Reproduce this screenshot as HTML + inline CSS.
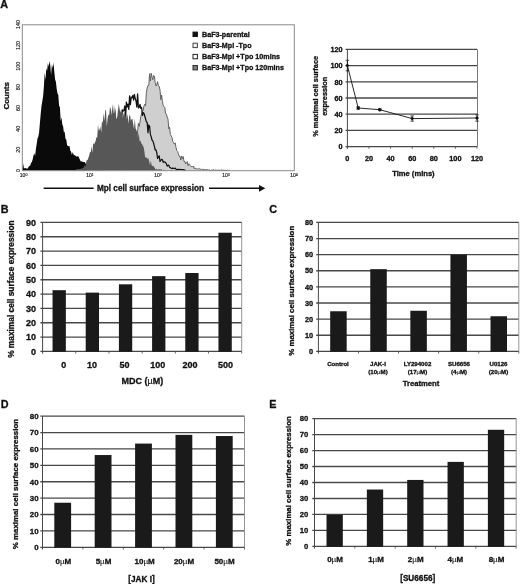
<!DOCTYPE html>
<html><head><meta charset="utf-8"><title>Figure</title>
<style>
html,body{margin:0;padding:0;background:#fff;}
body{width:520px;height:584px;overflow:hidden;}
svg{display:block;will-change:transform;font-family:"Liberation Sans",sans-serif;}
text{fill:#111;}
.b{font-weight:bold;stroke:#111;stroke-width:0.3px;}
.m{text-anchor:middle;}
.e{text-anchor:end;}
</style></head><body>
<svg width="520" height="584" viewBox="0 0 520 584">
<rect width="520" height="584" fill="#fff"/>

<text class="b" x="0.3" y="8.1" font-size="10.8">A</text>
<text class="b" x="0.8" y="213" font-size="10.8">B</text>
<text class="b" x="269.3" y="213" font-size="10.8">C</text>
<text class="b" x="0.8" y="408" font-size="10.8">D</text>
<text class="b" x="269.3" y="408.2" font-size="10.8">E</text>
<g id="pA">
<path d="M22.3 170.5L22.3 169.6L23.1 163.3L23.9 168.3L24.7 168.3L25.5 168.1L26.3 168.4L27.1 168.4L27.9 168.5L28.7 166.5L29.5 166.0L30.3 165.5L31.1 162.8L31.9 161.9L32.7 159.2L33.5 155.6L34.3 153.3L35.1 156.1L35.9 149.2L36.7 143.9L37.5 138.5L38.3 136.8L39.1 132.5L39.9 122.9L40.7 114.1L41.5 106.1L42.3 101.2L43.1 96.3L43.9 86.5L44.7 72.5L45.5 79.7L46.3 68.2L47.1 70.8L47.9 62.9L48.7 66.8L49.5 61.1L50.3 65.4L51.1 74.9L51.9 64.3L52.7 68.1L53.5 62.7L54.3 71.4L55.1 79.6L55.9 81.8L56.7 89.0L57.5 93.5L58.3 95.0L59.1 106.0L59.9 106.9L60.7 120.9L61.5 117.2L62.3 124.5L63.1 126.3L63.9 132.5L64.7 131.7L65.5 138.9L66.3 139.4L67.1 145.5L67.9 145.7L68.7 146.3L69.5 146.0L70.3 150.7L71.1 151.8L71.9 154.9L72.7 152.1L73.5 154.4L74.3 155.1L75.1 155.4L75.9 156.1L76.7 156.8L77.5 156.3L78.3 156.3L79.1 157.7L79.9 159.7L80.7 161.4L81.5 161.2L82.3 161.7L83.1 161.8L83.9 162.2L84.7 162.1L85.5 163.3L86.3 165.0L87.1 163.1L87.9 163.3L88.7 166.6L89.5 165.4L90.3 166.5L91.1 166.8L91.9 165.3L92.7 168.6L93.5 168.4L94.3 167.5L95.1 168.2L95.9 168.1L96.7 167.8L97.5 168.5L98.3 169.0L99.1 169.5L99.9 169.4L100.7 169.2L101.5 170.0L102.3 169.2L103.1 170.0L103.9 170.2L104.7 169.9L104.7 170.5 Z" fill="#0a0a0a"/>
<path d="M84.0 170.5L84.0 170.2L84.8 170.3L85.6 169.2L86.4 169.7L87.2 168.8L88.0 168.5L88.8 169.4L89.6 168.1L90.4 167.6L91.2 167.8L92.0 167.8L92.8 165.0L93.6 163.6L94.4 159.8L95.2 158.5L96.0 156.4L96.8 152.9L97.6 150.5L98.4 148.2L99.2 148.8L100.0 147.0L100.8 144.8L101.6 143.7L102.4 138.9L103.2 139.7L104.0 138.5L104.8 138.4L105.6 133.3L106.4 133.0L107.2 127.7L108.0 130.1L108.8 124.4L109.6 125.0L110.4 130.4L111.2 120.8L112.0 127.8L112.8 125.6L113.6 122.9L114.4 124.1L115.2 123.4L116.0 123.9L116.8 119.7L117.6 118.0L118.4 117.3L119.2 115.5L120.0 117.5L120.8 114.7L121.6 119.5L122.4 109.9L123.2 111.1L124.0 110.4L124.8 105.8L125.6 116.9L126.4 102.1L127.2 106.8L128.0 104.1L128.8 109.4L129.6 95.9L130.4 104.6L131.2 97.2L132.0 97.7L132.8 95.4L133.6 100.1L134.4 94.4L135.2 98.5L136.0 101.0L136.8 107.0L137.6 93.9L138.4 107.9L139.2 107.4L140.0 104.3L140.8 108.3L141.6 107.4L142.4 115.5L143.2 112.6L144.0 113.5L144.8 116.2L145.6 119.0L146.4 121.8L147.2 122.6L148.0 132.8L148.8 125.0L149.6 126.3L150.4 134.4L151.2 136.7L152.0 140.0L152.8 140.9L153.6 143.2L154.4 146.4L155.2 150.0L156.0 149.9L156.8 152.6L157.6 158.5L158.4 157.2L159.2 155.9L160.0 161.5L160.8 160.3L161.6 159.4L162.4 159.6L163.2 162.3L164.0 161.7L164.8 162.1L165.6 162.5L166.4 164.0L167.2 166.1L168.0 165.3L168.8 165.1L169.6 167.4L170.4 167.6L171.2 168.3L172.0 168.7L172.8 168.0L173.6 168.3L174.4 168.5L175.2 168.1L176.0 169.2L176.8 169.7L177.6 169.4L178.4 169.4L179.2 169.5L180.0 169.4L180.8 169.5L181.6 169.7L182.4 169.7L183.2 169.9L184.0 169.7L184.8 170.3L185.6 170.3L185.6 170.5 Z" fill="#fff"/>
<path d="M120.0 170.5L120.0 170.2L120.8 169.9L121.6 169.2L122.4 169.1L123.2 169.0L124.0 168.4L124.8 168.7L125.6 166.6L126.4 166.9L127.2 165.9L128.0 165.3L128.8 163.4L129.6 161.5L130.4 159.4L131.2 157.2L132.0 157.6L132.8 153.1L133.6 145.5L134.4 145.5L135.2 140.4L136.0 137.2L136.8 138.2L137.6 131.1L138.4 123.5L139.2 126.4L140.0 121.9L140.8 116.4L141.6 113.9L142.4 111.6L143.2 110.2L144.0 105.8L144.8 104.2L145.6 105.8L146.4 92.4L147.2 87.9L148.0 85.3L148.8 85.4L149.6 73.7L150.4 81.0L151.2 73.2L152.0 77.1L152.8 79.7L153.6 75.5L154.4 76.2L155.2 82.6L156.0 86.0L156.8 84.9L157.6 81.6L158.4 85.8L159.2 86.3L160.0 90.0L160.8 99.6L161.6 95.0L162.4 101.4L163.2 105.7L164.0 106.3L164.8 107.6L165.6 113.6L166.4 114.1L167.2 117.1L168.0 119.2L168.8 128.8L169.6 127.1L170.4 134.7L171.2 135.9L172.0 137.6L172.8 141.7L173.6 142.6L174.4 144.1L175.2 142.9L176.0 147.5L176.8 150.6L177.6 151.4L178.4 153.9L179.2 156.3L180.0 156.1L180.8 160.0L181.6 156.0L182.4 158.6L183.2 156.5L184.0 161.5L184.8 161.4L185.6 164.0L186.4 162.4L187.2 161.5L188.0 165.7L188.8 163.8L189.6 164.3L190.4 165.7L191.2 166.8L192.0 166.2L192.8 167.1L193.6 166.0L194.4 168.9L195.2 168.1L196.0 168.6L196.8 169.0L197.6 168.9L198.4 169.0L199.2 168.5L200.0 169.0L200.8 169.3L201.6 169.7L202.4 169.2L203.2 169.4L204.0 169.6L204.8 169.7L205.6 169.7L206.4 169.6L207.2 169.5L208.0 170.2L208.8 170.0L209.6 169.9L210.4 170.5L211.2 170.2L212.0 170.2L212.8 170.0L213.6 169.7L214.4 170.3L215.2 170.0L216.0 170.0L216.8 170.3L217.6 170.3L218.4 170.1L219.2 170.1L220.0 170.5L220.8 170.3L221.6 169.9L222.4 170.3L223.2 170.2L224.0 170.2L224.8 170.4L225.6 170.3L226.4 170.5L227.2 170.3L228.0 170.3L228.8 170.5L229.6 170.2L229.6 170.5 Z" fill="#cfcfcf"/>
<path d="M120.0 170.2L120.0 170.2L120.8 169.9L121.6 169.2L122.4 169.1L123.2 169.0L124.0 168.4L124.8 168.7L125.6 166.6L126.4 166.9L127.2 165.9L128.0 165.3L128.8 163.4L129.6 161.5L130.4 159.4L131.2 157.2L132.0 157.6L132.8 153.1L133.6 145.5L134.4 145.5L135.2 140.4L136.0 137.2L136.8 138.2L137.6 131.1L138.4 123.5L139.2 126.4L140.0 121.9L140.8 116.4L141.6 113.9L142.4 111.6L143.2 110.2L144.0 105.8L144.8 104.2L145.6 105.8L146.4 92.4L147.2 87.9L148.0 85.3L148.8 85.4L149.6 73.7L150.4 81.0L151.2 73.2L152.0 77.1L152.8 79.7L153.6 75.5L154.4 76.2L155.2 82.6L156.0 86.0L156.8 84.9L157.6 81.6L158.4 85.8L159.2 86.3L160.0 90.0L160.8 99.6L161.6 95.0L162.4 101.4L163.2 105.7L164.0 106.3L164.8 107.6L165.6 113.6L166.4 114.1L167.2 117.1L168.0 119.2L168.8 128.8L169.6 127.1L170.4 134.7L171.2 135.9L172.0 137.6L172.8 141.7L173.6 142.6L174.4 144.1L175.2 142.9L176.0 147.5L176.8 150.6L177.6 151.4L178.4 153.9L179.2 156.3L180.0 156.1L180.8 160.0L181.6 156.0L182.4 158.6L183.2 156.5L184.0 161.5L184.8 161.4L185.6 164.0L186.4 162.4L187.2 161.5L188.0 165.7L188.8 163.8L189.6 164.3L190.4 165.7L191.2 166.8L192.0 166.2L192.8 167.1L193.6 166.0L194.4 168.9L195.2 168.1L196.0 168.6L196.8 169.0L197.6 168.9L198.4 169.0L199.2 168.5L200.0 169.0L200.8 169.3L201.6 169.7L202.4 169.2L203.2 169.4L204.0 169.6L204.8 169.7L205.6 169.7L206.4 169.6L207.2 169.5L208.0 170.2L208.8 170.0L209.6 169.9L210.4 170.5L211.2 170.2L212.0 170.2L212.8 170.0L213.6 169.7L214.4 170.3L215.2 170.0L216.0 170.0L216.8 170.3L217.6 170.3L218.4 170.1L219.2 170.1L220.0 170.5L220.8 170.3L221.6 169.9L222.4 170.3L223.2 170.2L224.0 170.2L224.8 170.4L225.6 170.3L226.4 170.5L227.2 170.3L228.0 170.3L228.8 170.5L229.6 170.2" fill="none" stroke="#5c5c5c" stroke-width="0.95" stroke-linejoin="round"/>
<path d="M84.0 170.2L84.0 170.2L84.8 170.3L85.6 169.2L86.4 169.7L87.2 168.8L88.0 168.5L88.8 169.4L89.6 168.1L90.4 167.6L91.2 167.8L92.0 167.8L92.8 165.0L93.6 163.6L94.4 159.8L95.2 158.5L96.0 156.4L96.8 152.9L97.6 150.5L98.4 148.2L99.2 148.8L100.0 147.0L100.8 144.8L101.6 143.7L102.4 138.9L103.2 139.7L104.0 138.5L104.8 138.4L105.6 133.3L106.4 133.0L107.2 127.7L108.0 130.1L108.8 124.4L109.6 125.0L110.4 130.4L111.2 120.8L112.0 127.8L112.8 125.6L113.6 122.9L114.4 124.1L115.2 123.4L116.0 123.9L116.8 119.7L117.6 118.0L118.4 117.3L119.2 115.5L120.0 117.5L120.8 114.7L121.6 119.5L122.4 109.9L123.2 111.1L124.0 110.4L124.8 105.8L125.6 116.9L126.4 102.1L127.2 106.8L128.0 104.1L128.8 109.4L129.6 95.9L130.4 104.6L131.2 97.2L132.0 97.7L132.8 95.4L133.6 100.1L134.4 94.4L135.2 98.5L136.0 101.0L136.8 107.0L137.6 93.9L138.4 107.9L139.2 107.4L140.0 104.3L140.8 108.3L141.6 107.4L142.4 115.5L143.2 112.6L144.0 113.5L144.8 116.2L145.6 119.0L146.4 121.8L147.2 122.6L148.0 132.8L148.8 125.0L149.6 126.3L150.4 134.4L151.2 136.7L152.0 140.0L152.8 140.9L153.6 143.2L154.4 146.4L155.2 150.0L156.0 149.9L156.8 152.6L157.6 158.5L158.4 157.2L159.2 155.9L160.0 161.5L160.8 160.3L161.6 159.4L162.4 159.6L163.2 162.3L164.0 161.7L164.8 162.1L165.6 162.5L166.4 164.0L167.2 166.1L168.0 165.3L168.8 165.1L169.6 167.4L170.4 167.6L171.2 168.3L172.0 168.7L172.8 168.0L173.6 168.3L174.4 168.5L175.2 168.1L176.0 169.2L176.8 169.7L177.6 169.4L178.4 169.4L179.2 169.5L180.0 169.4L180.8 169.5L181.6 169.7L182.4 169.7L183.2 169.9L184.0 169.7L184.8 170.3L185.6 170.3" fill="none" stroke="#111" stroke-width="1.25" stroke-linejoin="round"/>
<path d="M72.4 170.5L72.4 170.5L73.2 169.9L74.0 170.2L74.8 170.0L75.6 170.3L76.4 169.1L77.2 169.5L78.0 169.3L78.8 169.0L79.6 169.0L80.4 169.0L81.2 168.7L82.0 167.8L82.8 168.6L83.6 167.4L84.4 165.0L85.2 167.3L86.0 162.9L86.8 160.1L87.6 159.9L88.4 157.8L89.2 155.6L90.0 151.6L90.8 152.5L91.6 145.9L92.4 152.7L93.2 142.9L94.0 144.4L94.8 142.8L95.6 141.1L96.4 137.2L97.2 137.6L98.0 124.4L98.8 131.0L99.6 129.2L100.4 126.4L101.2 132.8L102.0 120.9L102.8 123.0L103.6 112.9L104.4 121.2L105.2 111.1L106.0 109.6L106.8 126.5L107.6 118.5L108.4 114.7L109.2 115.1L110.0 107.1L110.8 108.8L111.6 115.5L112.4 103.4L113.2 114.5L114.0 104.8L114.8 113.4L115.6 107.4L116.4 120.9L117.2 117.3L118.0 110.1L118.8 103.7L119.6 109.1L120.4 112.7L121.2 108.4L122.0 114.6L122.8 118.0L123.6 113.4L124.4 111.9L125.2 118.0L126.0 113.3L126.8 118.9L127.6 113.8L128.4 123.8L129.2 116.4L130.0 114.2L130.8 120.7L131.6 118.9L132.4 119.0L133.2 123.9L134.0 129.0L134.8 118.4L135.6 128.6L136.4 130.2L137.2 132.3L138.0 137.9L138.8 132.3L139.6 141.4L140.4 140.2L141.2 143.2L142.0 144.1L142.8 145.7L143.6 147.0L144.4 151.6L145.2 157.9L146.0 156.8L146.8 158.0L147.6 159.0L148.4 158.1L149.2 161.5L150.0 165.3L150.8 160.4L151.6 165.1L152.4 166.2L153.2 165.6L154.0 166.9L154.8 168.1L155.6 169.6L156.4 168.9L157.2 169.7L158.0 169.0L158.8 169.5L159.6 169.2L160.4 169.4L161.2 169.0L162.0 169.9L162.8 170.4L163.6 169.7L164.4 170.0L165.2 170.3L166.0 170.2L166.0 170.5 Z" fill="#575757"/>
<rect x="22.3" y="24.8" width="272" height="145.9" fill="none" stroke="#8a8a8a" stroke-width="1"/>
<text class="m" font-size="5.5" transform="translate(19.7 24.5) rotate(-90)" fill="#222" stroke="#222" stroke-width="0.15">140</text>
<text class="m" font-size="5.5" transform="translate(19.7 45.4) rotate(-90)" fill="#222" stroke="#222" stroke-width="0.15">120</text>
<text class="m" font-size="5.5" transform="translate(19.7 66.2) rotate(-90)" fill="#222" stroke="#222" stroke-width="0.15">100</text>
<text class="m" font-size="5.5" transform="translate(19.7 87.1) rotate(-90)" fill="#222" stroke="#222" stroke-width="0.15">80</text>
<text class="m" font-size="5.5" transform="translate(19.7 107.9) rotate(-90)" fill="#222" stroke="#222" stroke-width="0.15">60</text>
<text class="m" font-size="5.5" transform="translate(19.7 128.8) rotate(-90)" fill="#222" stroke="#222" stroke-width="0.15">40</text>
<text class="m" font-size="5.5" transform="translate(19.7 149.7) rotate(-90)" fill="#222" stroke="#222" stroke-width="0.15">20</text>
<text class="m" font-size="5.5" transform="translate(19.7 170.5) rotate(-90)" fill="#222" stroke="#222" stroke-width="0.15">0</text>
<text class="m" font-size="5" x="23.6" y="177.4" fill="#222" stroke="#222" stroke-width="0.15">10<tspan dy="-1.8" font-size="3.6">0</tspan></text>
<text class="m" font-size="5" x="90.0" y="177.4" fill="#222" stroke="#222" stroke-width="0.15">10<tspan dy="-1.8" font-size="3.6">1</tspan></text>
<text class="m" font-size="5" x="158.0" y="177.4" fill="#222" stroke="#222" stroke-width="0.15">10<tspan dy="-1.8" font-size="3.6">2</tspan></text>
<text class="m" font-size="5" x="226.0" y="177.4" fill="#222" stroke="#222" stroke-width="0.15">10<tspan dy="-1.8" font-size="3.6">3</tspan></text>
<text class="m" font-size="5" x="294.0" y="177.4" fill="#222" stroke="#222" stroke-width="0.15">10<tspan dy="-1.8" font-size="3.6">4</tspan></text>
<text class="b m" font-size="8" transform="translate(9.2 95.8) rotate(-90)">Counts</text>
<line x1="43.6" y1="188.3" x2="93.6" y2="188.3" stroke="#111" stroke-width="1.5"/>
<text class="b" font-size="8.2" x="97" y="191.1">Mpl cell surface expression</text>
<line x1="209" y1="188.3" x2="260" y2="188.3" stroke="#111" stroke-width="1.5"/>
<path d="M259 184.9 L265.3 188.3 L259 191.7 Z" fill="#111"/>
<rect x="193" y="32.1" width="4.4" height="4.4" fill="#111" stroke="#111" stroke-width="1"/>
<text class="b" font-size="7.15" x="202" y="36.8">BaF3-parental</text>
<rect x="193" y="43.2" width="4.4" height="4.4" fill="#f0f0f0" stroke="#444" stroke-width="1"/>
<text class="b" font-size="7.15" x="202" y="47.9">BaF3-Mpl -Tpo</text>
<rect x="193" y="54.4" width="4.4" height="4.4" fill="#fff" stroke="#222" stroke-width="1"/>
<text class="b" font-size="7.15" x="202" y="59.1">BaF3-Mpl +Tpo 10mins</text>
<rect x="193" y="65.5" width="4.4" height="4.4" fill="#808080" stroke="#2a2a2a" stroke-width="1"/>
<text class="b" font-size="7.15" x="202" y="70.2">BaF3-Mpl +Tpo 120mins</text>
</g>
<g id="pA2">
<line x1="345.6" y1="146.6" x2="477.0" y2="146.6" stroke="#484848" stroke-width="1.3"/>
<text class="b e" font-size="7.3" x="342.6" y="149.3">0</text>
<line x1="345.6" y1="130.4" x2="477.0" y2="130.4" stroke="#484848" stroke-width="1.3"/>
<text class="b e" font-size="7.3" x="342.6" y="133.1">20</text>
<line x1="345.6" y1="114.2" x2="477.0" y2="114.2" stroke="#484848" stroke-width="1.3"/>
<text class="b e" font-size="7.3" x="342.6" y="116.9">40</text>
<line x1="345.6" y1="98.0" x2="477.0" y2="98.0" stroke="#484848" stroke-width="1.3"/>
<text class="b e" font-size="7.3" x="342.6" y="100.7">60</text>
<line x1="345.6" y1="81.8" x2="477.0" y2="81.8" stroke="#484848" stroke-width="1.3"/>
<text class="b e" font-size="7.3" x="342.6" y="84.5">80</text>
<line x1="345.6" y1="65.6" x2="477.0" y2="65.6" stroke="#484848" stroke-width="1.3"/>
<text class="b e" font-size="7.3" x="342.6" y="68.3">100</text>
<line x1="345.6" y1="49.4" x2="477.0" y2="49.4" stroke="#484848" stroke-width="1.3"/>
<text class="b e" font-size="7.3" x="342.6" y="52.1">120</text>
<line x1="347.4" y1="49.4" x2="347.4" y2="148.6" stroke="#484848" stroke-width="1"/>
<line x1="477.5" y1="49.4" x2="477.5" y2="146.6" stroke="#777" stroke-width="1"/>
<line x1="347.4" y1="146.6" x2="347.4" y2="148.8" stroke="#484848" stroke-width="0.8"/>
<text class="b m" font-size="7.3" x="347.4" y="161.3">0</text>
<line x1="369.0" y1="146.6" x2="369.0" y2="148.8" stroke="#484848" stroke-width="0.8"/>
<text class="b m" font-size="7.3" x="369.0" y="161.3">20</text>
<line x1="390.6" y1="146.6" x2="390.6" y2="148.8" stroke="#484848" stroke-width="0.8"/>
<text class="b m" font-size="7.3" x="390.6" y="161.3">40</text>
<line x1="412.2" y1="146.6" x2="412.2" y2="148.8" stroke="#484848" stroke-width="0.8"/>
<text class="b m" font-size="7.3" x="412.2" y="161.3">60</text>
<line x1="433.8" y1="146.6" x2="433.8" y2="148.8" stroke="#484848" stroke-width="0.8"/>
<text class="b m" font-size="7.3" x="433.8" y="161.3">80</text>
<line x1="455.4" y1="146.6" x2="455.4" y2="148.8" stroke="#484848" stroke-width="0.8"/>
<text class="b m" font-size="7.3" x="455.4" y="161.3">100</text>
<line x1="477.0" y1="146.6" x2="477.0" y2="148.8" stroke="#484848" stroke-width="0.8"/>
<text class="b m" font-size="7.3" x="477.0" y="161.3">120</text>
<polyline fill="none" stroke="#111" stroke-width="0.9" points="347.4,65.6 358.2,108.0 379.8,109.7 412.2,118.6 477.0,118.0"/>
<line x1="347.4" y1="60.3" x2="347.4" y2="70.9" stroke="#111" stroke-width="0.7"/>
<line x1="345.6" y1="60.3" x2="349.2" y2="60.3" stroke="#111" stroke-width="0.7"/>
<line x1="345.6" y1="70.9" x2="349.2" y2="70.9" stroke="#111" stroke-width="0.7"/>
<path d="M347.4 63.6 l2 2 l-2 2 l-2 -2 Z" fill="#111"/>
<line x1="358.2" y1="106.8" x2="358.2" y2="109.3" stroke="#111" stroke-width="0.7"/>
<line x1="356.4" y1="106.8" x2="360.0" y2="106.8" stroke="#111" stroke-width="0.7"/>
<line x1="356.4" y1="109.3" x2="360.0" y2="109.3" stroke="#111" stroke-width="0.7"/>
<path d="M358.2 106.0 l2 2 l-2 2 l-2 -2 Z" fill="#111"/>
<line x1="379.8" y1="108.7" x2="379.8" y2="110.6" stroke="#111" stroke-width="0.7"/>
<line x1="378.0" y1="108.7" x2="381.6" y2="108.7" stroke="#111" stroke-width="0.7"/>
<line x1="378.0" y1="110.6" x2="381.6" y2="110.6" stroke="#111" stroke-width="0.7"/>
<path d="M379.8 107.7 l2 2 l-2 2 l-2 -2 Z" fill="#111"/>
<line x1="412.2" y1="115.9" x2="412.2" y2="121.2" stroke="#111" stroke-width="0.7"/>
<line x1="410.4" y1="115.9" x2="414.0" y2="115.9" stroke="#111" stroke-width="0.7"/>
<line x1="410.4" y1="121.2" x2="414.0" y2="121.2" stroke="#111" stroke-width="0.7"/>
<path d="M412.2 116.6 l2 2 l-2 2 l-2 -2 Z" fill="#111"/>
<line x1="477.0" y1="114.8" x2="477.0" y2="121.2" stroke="#111" stroke-width="0.7"/>
<line x1="475.2" y1="114.8" x2="478.8" y2="114.8" stroke="#111" stroke-width="0.7"/>
<line x1="475.2" y1="121.2" x2="478.8" y2="121.2" stroke="#111" stroke-width="0.7"/>
<path d="M477.0 116.0 l2 2 l-2 2 l-2 -2 Z" fill="#111"/>
<text class="b m" font-size="7.4" transform="translate(317.6 96.3) rotate(-90)">% maximal cell surface</text>
<text class="b m" font-size="7.4" transform="translate(326.8 96.3) rotate(-90)">expression</text>
<text class="b m" font-size="7.6" x="413.4" y="175.8">Time (mins)</text>
</g>
<g id="pB">
<line x1="40.40" y1="351.40" x2="241.70" y2="351.40" stroke="#484848" stroke-width="1.3"/>
<text class="b e" font-size="9.0" x="36.0" y="354.6">0</text>
<line x1="40.40" y1="337.07" x2="241.70" y2="337.07" stroke="#484848" stroke-width="1.3"/>
<text class="b e" font-size="9.0" x="36.0" y="340.3">10</text>
<line x1="40.40" y1="322.73" x2="241.70" y2="322.73" stroke="#484848" stroke-width="1.3"/>
<text class="b e" font-size="9.0" x="36.0" y="326.0">20</text>
<line x1="40.40" y1="308.40" x2="241.70" y2="308.40" stroke="#484848" stroke-width="1.3"/>
<text class="b e" font-size="9.0" x="36.0" y="311.6">30</text>
<line x1="40.40" y1="294.07" x2="241.70" y2="294.07" stroke="#484848" stroke-width="1.3"/>
<text class="b e" font-size="9.0" x="36.0" y="297.3">40</text>
<line x1="40.40" y1="279.73" x2="241.70" y2="279.73" stroke="#484848" stroke-width="1.3"/>
<text class="b e" font-size="9.0" x="36.0" y="283.0">50</text>
<line x1="40.40" y1="265.40" x2="241.70" y2="265.40" stroke="#484848" stroke-width="1.3"/>
<text class="b e" font-size="9.0" x="36.0" y="268.6">60</text>
<line x1="40.40" y1="251.07" x2="241.70" y2="251.07" stroke="#484848" stroke-width="1.3"/>
<text class="b e" font-size="9.0" x="36.0" y="254.3">70</text>
<line x1="40.40" y1="236.73" x2="241.70" y2="236.73" stroke="#484848" stroke-width="1.3"/>
<text class="b e" font-size="9.0" x="36.0" y="240.0">80</text>
<line x1="40.40" y1="222.40" x2="241.70" y2="222.40" stroke="#484848" stroke-width="1.3"/>
<text class="b e" font-size="9.0" x="36.0" y="225.6">90</text>
<line x1="42.60" y1="222.40" x2="42.60" y2="353.60" stroke="#484848" stroke-width="1"/>
<line x1="241.70" y1="222.40" x2="241.70" y2="351.40" stroke="#8a8a8a" stroke-width="0.9"/>
<line x1="75.78" y1="351.40" x2="75.78" y2="353.60" stroke="#484848" stroke-width="0.8"/>
<line x1="108.97" y1="351.40" x2="108.97" y2="353.60" stroke="#484848" stroke-width="0.8"/>
<line x1="142.15" y1="351.40" x2="142.15" y2="353.60" stroke="#484848" stroke-width="0.8"/>
<line x1="175.33" y1="351.40" x2="175.33" y2="353.60" stroke="#484848" stroke-width="0.8"/>
<line x1="208.52" y1="351.40" x2="208.52" y2="353.60" stroke="#484848" stroke-width="0.8"/>
<line x1="241.70" y1="351.40" x2="241.70" y2="353.60" stroke="#484848" stroke-width="0.8"/>
<rect x="52.54" y="290.20" width="13.30" height="61.60" fill="#1a1a1a"/>
<rect x="85.72" y="292.63" width="13.30" height="59.17" fill="#1a1a1a"/>
<rect x="118.91" y="284.32" width="13.30" height="67.48" fill="#1a1a1a"/>
<rect x="152.09" y="276.15" width="13.30" height="75.65" fill="#1a1a1a"/>
<rect x="185.27" y="273.00" width="13.30" height="78.80" fill="#1a1a1a"/>
<rect x="218.46" y="232.72" width="13.30" height="119.08" fill="#1a1a1a"/>
<text class="b m" font-size="8.33" transform="translate(13.9 289.1) rotate(-90)">% maximal cell surface expression</text>
<text class="b m" font-size="9.0" x="63.8" y="368.1">0</text>
<text class="b m" font-size="9.0" x="91.9" y="368.1">10</text>
<text class="b m" font-size="9.0" x="124.6" y="368.1">50</text>
<text class="b m" font-size="9.0" x="157.8" y="368.1">100</text>
<text class="b m" font-size="9.0" x="190.0" y="368.1">200</text>
<text class="b m" font-size="9.0" x="225.5" y="368.1">500</text>
<text class="b m" font-size="9.0" x="142.3" y="384.1">MDC (<tspan font-weight="normal" stroke-width="0.1">µ</tspan>M)</text>
</g>
<g id="pC">
<line x1="316.20" y1="351.40" x2="518.80" y2="351.40" stroke="#484848" stroke-width="1.3"/>
<text class="b e" font-size="7.3" x="313.0" y="354.0">0</text>
<line x1="316.20" y1="335.27" x2="518.80" y2="335.27" stroke="#484848" stroke-width="1.3"/>
<text class="b e" font-size="7.3" x="313.0" y="337.9">10</text>
<line x1="316.20" y1="319.15" x2="518.80" y2="319.15" stroke="#484848" stroke-width="1.3"/>
<text class="b e" font-size="7.3" x="313.0" y="321.8">20</text>
<line x1="316.20" y1="303.02" x2="518.80" y2="303.02" stroke="#484848" stroke-width="1.3"/>
<text class="b e" font-size="7.3" x="313.0" y="305.7">30</text>
<line x1="316.20" y1="286.90" x2="518.80" y2="286.90" stroke="#484848" stroke-width="1.3"/>
<text class="b e" font-size="7.3" x="313.0" y="289.5">40</text>
<line x1="316.20" y1="270.77" x2="518.80" y2="270.77" stroke="#484848" stroke-width="1.3"/>
<text class="b e" font-size="7.3" x="313.0" y="273.4">50</text>
<line x1="316.20" y1="254.65" x2="518.80" y2="254.65" stroke="#484848" stroke-width="1.3"/>
<text class="b e" font-size="7.3" x="313.0" y="257.3">60</text>
<line x1="316.20" y1="238.53" x2="518.80" y2="238.53" stroke="#484848" stroke-width="1.3"/>
<text class="b e" font-size="7.3" x="313.0" y="241.2">70</text>
<line x1="316.20" y1="222.40" x2="518.80" y2="222.40" stroke="#484848" stroke-width="1.3"/>
<text class="b e" font-size="7.3" x="313.0" y="225.0">80</text>
<line x1="318.40" y1="222.40" x2="318.40" y2="353.60" stroke="#484848" stroke-width="1"/>
<line x1="518.80" y1="222.40" x2="518.80" y2="351.40" stroke="#8a8a8a" stroke-width="0.9"/>
<line x1="358.48" y1="351.40" x2="358.48" y2="353.60" stroke="#484848" stroke-width="0.8"/>
<line x1="398.56" y1="351.40" x2="398.56" y2="353.60" stroke="#484848" stroke-width="0.8"/>
<line x1="438.64" y1="351.40" x2="438.64" y2="353.60" stroke="#484848" stroke-width="0.8"/>
<line x1="478.72" y1="351.40" x2="478.72" y2="353.60" stroke="#484848" stroke-width="0.8"/>
<line x1="518.80" y1="351.40" x2="518.80" y2="353.60" stroke="#484848" stroke-width="0.8"/>
<rect x="330.19" y="311.25" width="16.50" height="40.55" fill="#1a1a1a"/>
<rect x="370.27" y="269.16" width="16.50" height="82.64" fill="#1a1a1a"/>
<rect x="410.35" y="310.76" width="16.50" height="41.03" fill="#1a1a1a"/>
<rect x="450.43" y="254.65" width="16.50" height="97.15" fill="#1a1a1a"/>
<rect x="490.51" y="316.25" width="16.50" height="35.55" fill="#1a1a1a"/>
<text class="b m" font-size="7.88" transform="translate(293.6 290.8) rotate(-90)">% maximal cell surface expression</text>
<text class="b m" font-size="6.1" x="338.0" y="366.4">Control</text>
<text class="b m" font-size="6.1" x="378.0" y="366.4">JAK-I</text>
<text class="b m" font-size="6.1" x="378.0" y="373.9">(10<tspan font-weight="normal" stroke-width="0.1">µ</tspan>M)</text>
<text class="b m" font-size="6.1" x="417.5" y="366.4">LY294002</text>
<text class="b m" font-size="6.1" x="417.5" y="373.9">(17<tspan font-weight="normal" stroke-width="0.1">µ</tspan>M)</text>
<text class="b m" font-size="6.1" x="459.0" y="366.4">SU6656</text>
<text class="b m" font-size="6.1" x="459.0" y="373.9">(4<tspan font-weight="normal" stroke-width="0.1">µ</tspan>M)</text>
<text class="b m" font-size="6.1" x="498.5" y="366.4">U0126</text>
<text class="b m" font-size="6.1" x="498.5" y="373.9">(20<tspan font-weight="normal" stroke-width="0.1">µ</tspan>M)</text>
<text class="b m" font-size="7.7" x="421.0" y="385.9">Treatment</text>
</g>
<g id="pD">
<line x1="40.30" y1="547.30" x2="244.50" y2="547.30" stroke="#484848" stroke-width="1.3"/>
<text class="b e" font-size="7.9" x="38.6" y="550.1">0</text>
<line x1="40.30" y1="530.91" x2="244.50" y2="530.91" stroke="#484848" stroke-width="1.3"/>
<text class="b e" font-size="7.9" x="38.6" y="533.8">10</text>
<line x1="40.30" y1="514.52" x2="244.50" y2="514.52" stroke="#484848" stroke-width="1.3"/>
<text class="b e" font-size="7.9" x="38.6" y="517.4">20</text>
<line x1="40.30" y1="498.14" x2="244.50" y2="498.14" stroke="#484848" stroke-width="1.3"/>
<text class="b e" font-size="7.9" x="38.6" y="501.0">30</text>
<line x1="40.30" y1="481.75" x2="244.50" y2="481.75" stroke="#484848" stroke-width="1.3"/>
<text class="b e" font-size="7.9" x="38.6" y="484.6">40</text>
<line x1="40.30" y1="465.36" x2="244.50" y2="465.36" stroke="#484848" stroke-width="1.3"/>
<text class="b e" font-size="7.9" x="38.6" y="468.2">50</text>
<line x1="40.30" y1="448.97" x2="244.50" y2="448.97" stroke="#484848" stroke-width="1.3"/>
<text class="b e" font-size="7.9" x="38.6" y="451.8">60</text>
<line x1="40.30" y1="432.59" x2="244.50" y2="432.59" stroke="#484848" stroke-width="1.3"/>
<text class="b e" font-size="7.9" x="38.6" y="435.4">70</text>
<line x1="40.30" y1="416.20" x2="244.50" y2="416.20" stroke="#484848" stroke-width="1.3"/>
<text class="b e" font-size="7.9" x="38.6" y="419.0">80</text>
<line x1="42.50" y1="416.20" x2="42.50" y2="549.50" stroke="#484848" stroke-width="1"/>
<line x1="244.50" y1="416.20" x2="244.50" y2="547.30" stroke="#8a8a8a" stroke-width="0.9"/>
<line x1="82.90" y1="547.30" x2="82.90" y2="549.50" stroke="#484848" stroke-width="0.8"/>
<line x1="123.30" y1="547.30" x2="123.30" y2="549.50" stroke="#484848" stroke-width="0.8"/>
<line x1="163.70" y1="547.30" x2="163.70" y2="549.50" stroke="#484848" stroke-width="0.8"/>
<line x1="204.10" y1="547.30" x2="204.10" y2="549.50" stroke="#484848" stroke-width="0.8"/>
<line x1="244.50" y1="547.30" x2="244.50" y2="549.50" stroke="#484848" stroke-width="0.8"/>
<rect x="54.30" y="502.73" width="16.80" height="44.97" fill="#1a1a1a"/>
<rect x="94.70" y="455.04" width="16.80" height="92.66" fill="#1a1a1a"/>
<rect x="135.10" y="443.57" width="16.80" height="104.13" fill="#1a1a1a"/>
<rect x="175.50" y="434.88" width="16.80" height="112.82" fill="#1a1a1a"/>
<rect x="215.90" y="436.03" width="16.80" height="111.67" fill="#1a1a1a"/>
<text class="b m" font-size="7.9" transform="translate(18.4 484.1) rotate(-90)">% maximal cell surface expression</text>
<text class="b m" font-size="8.0" x="63.4" y="564.1">0<tspan font-weight="normal" stroke-width="0.1">µ</tspan>M</text>
<text class="b m" font-size="8.0" x="103.5" y="564.1">5<tspan font-weight="normal" stroke-width="0.1">µ</tspan>M</text>
<text class="b m" font-size="8.0" x="144.6" y="564.1">10<tspan font-weight="normal" stroke-width="0.1">µ</tspan>M</text>
<text class="b m" font-size="8.0" x="184.0" y="564.1">20<tspan font-weight="normal" stroke-width="0.1">µ</tspan>M</text>
<text class="b m" font-size="8.0" x="224.5" y="564.1">50<tspan font-weight="normal" stroke-width="0.1">µ</tspan>M</text>
<text class="b m" font-size="8.2" x="141.5" y="581.8">[JAK I]</text>
</g>
<g id="pE">
<line x1="312.30" y1="546.40" x2="516.20" y2="546.40" stroke="#484848" stroke-width="1.3"/>
<text class="b e" font-size="7.7" x="308.3" y="549.2">0</text>
<line x1="312.30" y1="530.42" x2="516.20" y2="530.42" stroke="#484848" stroke-width="1.3"/>
<text class="b e" font-size="7.7" x="308.3" y="533.2">10</text>
<line x1="312.30" y1="514.45" x2="516.20" y2="514.45" stroke="#484848" stroke-width="1.3"/>
<text class="b e" font-size="7.7" x="308.3" y="517.2">20</text>
<line x1="312.30" y1="498.48" x2="516.20" y2="498.48" stroke="#484848" stroke-width="1.3"/>
<text class="b e" font-size="7.7" x="308.3" y="501.2">30</text>
<line x1="312.30" y1="482.50" x2="516.20" y2="482.50" stroke="#484848" stroke-width="1.3"/>
<text class="b e" font-size="7.7" x="308.3" y="485.3">40</text>
<line x1="312.30" y1="466.52" x2="516.20" y2="466.52" stroke="#484848" stroke-width="1.3"/>
<text class="b e" font-size="7.7" x="308.3" y="469.3">50</text>
<line x1="312.30" y1="450.55" x2="516.20" y2="450.55" stroke="#484848" stroke-width="1.3"/>
<text class="b e" font-size="7.7" x="308.3" y="453.3">60</text>
<line x1="312.30" y1="434.58" x2="516.20" y2="434.58" stroke="#484848" stroke-width="1.3"/>
<text class="b e" font-size="7.7" x="308.3" y="437.3">70</text>
<line x1="312.30" y1="418.60" x2="516.20" y2="418.60" stroke="#484848" stroke-width="1.3"/>
<text class="b e" font-size="7.7" x="308.3" y="421.4">80</text>
<line x1="314.50" y1="418.60" x2="314.50" y2="548.60" stroke="#484848" stroke-width="1"/>
<line x1="516.20" y1="418.60" x2="516.20" y2="546.40" stroke="#8a8a8a" stroke-width="0.9"/>
<line x1="354.84" y1="546.40" x2="354.84" y2="548.60" stroke="#484848" stroke-width="0.8"/>
<line x1="395.18" y1="546.40" x2="395.18" y2="548.60" stroke="#484848" stroke-width="0.8"/>
<line x1="435.52" y1="546.40" x2="435.52" y2="548.60" stroke="#484848" stroke-width="0.8"/>
<line x1="475.86" y1="546.40" x2="475.86" y2="548.60" stroke="#484848" stroke-width="0.8"/>
<line x1="516.20" y1="546.40" x2="516.20" y2="548.60" stroke="#484848" stroke-width="0.8"/>
<rect x="326.52" y="514.77" width="16.30" height="32.03" fill="#1a1a1a"/>
<rect x="366.86" y="489.53" width="16.30" height="57.27" fill="#1a1a1a"/>
<rect x="407.20" y="479.94" width="16.30" height="66.86" fill="#1a1a1a"/>
<rect x="447.54" y="461.89" width="16.30" height="84.91" fill="#1a1a1a"/>
<rect x="487.88" y="429.78" width="16.30" height="117.02" fill="#1a1a1a"/>
<text class="b m" font-size="7.85" transform="translate(290.9 480.9) rotate(-90)">% maximal cell surface expression</text>
<text class="b m" font-size="8.0" x="335.0" y="562.4">0<tspan font-weight="normal" stroke-width="0.1">µ</tspan>M</text>
<text class="b m" font-size="8.0" x="376.0" y="562.4">1<tspan font-weight="normal" stroke-width="0.1">µ</tspan>M</text>
<text class="b m" font-size="8.0" x="415.7" y="562.4">2<tspan font-weight="normal" stroke-width="0.1">µ</tspan>M</text>
<text class="b m" font-size="8.0" x="455.4" y="562.4">4<tspan font-weight="normal" stroke-width="0.1">µ</tspan>M</text>
<text class="b m" font-size="8.0" x="496.5" y="562.4">8<tspan font-weight="normal" stroke-width="0.1">µ</tspan>M</text>
<text class="b m" font-size="8.2" x="417.7" y="580.5">[SU6656]</text>
</g>
</svg></body></html>
